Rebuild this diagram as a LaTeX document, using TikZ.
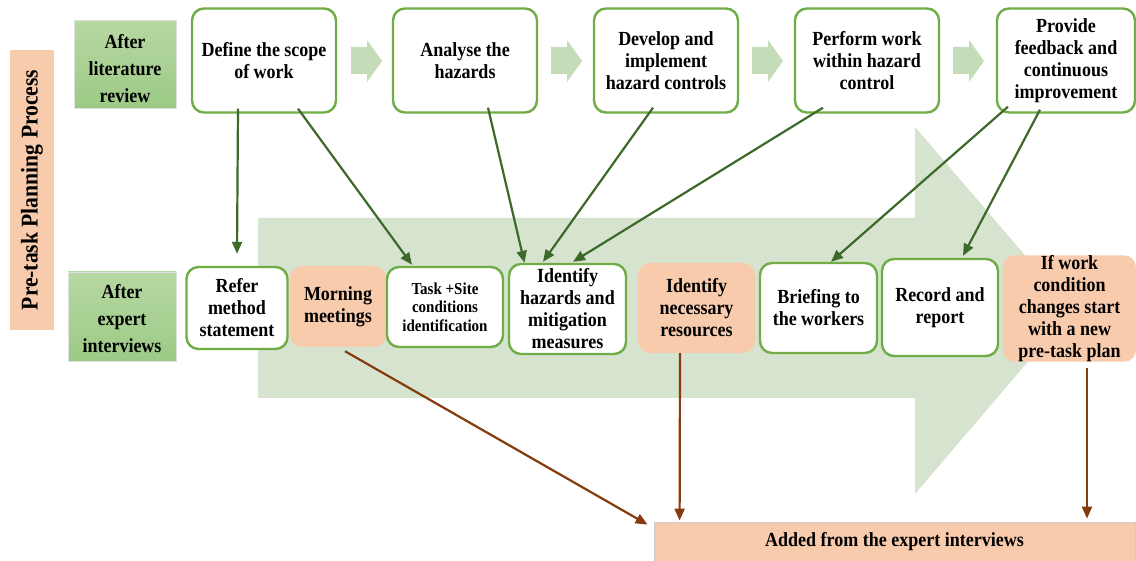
\documentclass[tikz,border=0pt]{standalone}
\usepackage{fontspec}
\setmainfont{Liberation Serif}[FakeStretch=0.9]
\usetikzlibrary{arrows.meta}
\definecolor{peach}{HTML}{F8CBAD}
\definecolor{boxgreen}{HTML}{70AD47}
\definecolor{glight}{HTML}{B6D8A2}
\definecolor{gdark}{HTML}{9CCA86}
\definecolor{arrgreen}{HTML}{3D6A2A}
\definecolor{arrbrown}{HTML}{843C0C}
\definecolor{smallarr}{HTML}{C5DCB8}
\definecolor{bigarr}{HTML}{D6E4CF}
\begin{document}
\begin{tikzpicture}[x=1pt,y=-1pt,
  every node/.style={align=center, inner sep=0pt, font=\bfseries\fontsize{20}{22}\selectfont},
  wbox/.style={draw=boxgreen, line width=2.4pt, rounded corners=12pt, fill=white},
  pbox/.style={fill=peach, rounded corners=12pt},
  gbox/.style={draw=black!12, line width=0.8pt, top color=glight, bottom color=gdark},
  garr/.style={draw=arrgreen, line width=2.2pt, -{Triangle[length=12pt,width=10pt]}},
  barr/.style={draw=arrbrown, line width=2.2pt, -{Triangle[length=12pt,width=10pt]}},
  blockarr/.style={fill=smallarr},
]
\fill[white] (0,0) rectangle (1136,561);
\useasboundingbox (0,0) rectangle (1136,561);

% big background arrow
\fill[bigarr] (258,218) -- (915,218) -- (915,127) -- (1072,310) -- (915,494) -- (915,398) -- (258,398) -- cycle;

% small block arrows
\foreach \x in {351,551,752,953}{
  \fill[blockarr] (\x,47) -- (\x+16,47) -- (\x+16,40) -- (\x+31,61) -- (\x+16,82) -- (\x+16,74) -- (\x,74) -- cycle;
}

% side label
\node[fill=peach, rotate=90, minimum width=280, minimum height=44, font=\bfseries\fontsize{24}{26}\selectfont] (side) at (32,190) {Pre-task Planning Process};

% green labels
\node[gbox, minimum width=102, minimum height=88] (lit) at (125,64.5) {};
\node[font=\bfseries\fontsize{20}{27}\selectfont] (litT) at (125,69) {After\\literature\\review};
\node[gbox, minimum width=108, minimum height=89] (exp) at (122,316.5) {};
\node[font=\bfseries\fontsize{20}{27}\selectfont] (expT) at (122,319) {After\\expert\\interviews};

% top row
\node[wbox, minimum width=144, minimum height=104] (define) at (264,60.5) {Define the scope\\of work};
\node[wbox, minimum width=144, minimum height=104] (analyse) at (465,60.5) {Analyse the\\hazards};
\node[wbox, minimum width=144, minimum height=104] (develop) at (666,60.5) {Develop and\\implement\\hazard controls};
\node[wbox, minimum width=144, minimum height=104] (perform) at (867,60.5) {Perform work\\within hazard\\control};
\node[wbox, minimum width=138, minimum height=104] (provide) at (1066,60.5) {Provide\\feedback and\\continuous\\improvement};

% bottom row
\node[wbox, minimum width=101, minimum height=82] (refer) at (237,308) {Refer\\method\\statement};
\node[pbox, minimum width=96, minimum height=81] (morning) at (338,306.5) {Morning\\meetings};
\node[wbox, minimum width=116, minimum height=80, font=\bfseries\fontsize{16.7}{18.5}\selectfont] (task) at (445,307) {Task +Site\\conditions\\identification};
\node[wbox, minimum width=117, minimum height=90] (hazards) at (567.5,309) {Identify\\hazards and\\mitigation\\measures};
\node[pbox, minimum width=117, minimum height=90] (resources) at (696.5,308) {Identify\\necessary\\resources};
\node[wbox, minimum width=117, minimum height=90] (briefing) at (818.5,308) {Briefing to\\the workers};
\node[wbox, minimum width=116, minimum height=97] (record) at (940,307.5) {Record and\\report};
\node[pbox, minimum width=133, minimum height=99] (ifwork) at (1069.5,308.5) {If work\\condition\\changes start\\with a new\\pre-task plan};

% bottom box
\node[fill=peach, draw=black!20, line width=0.8pt, minimum width=481, minimum height=39] (added) at (894.5,541.5) {Added from the expert interviews};

% green connectors
\draw[garr] ([xshift=-26pt,yshift=5pt]define.south) -- ([yshift=12pt]refer.north);
\draw[garr] ([xshift=34pt,yshift=5pt]define.south) -- ([xshift=-33pt,yshift=1pt]task.north);
\draw[garr] ([xshift=23pt,yshift=6pt]analyse.south) -- ([xshift=-43pt,yshift=0pt]hazards.north);
\draw[garr] ([xshift=-13pt,yshift=6pt]develop.south) -- ([xshift=-24.5pt,yshift=1pt]hazards.north);
\draw[garr] ([xshift=-44pt,yshift=6pt]perform.south) -- ([xshift=5.5pt,yshift=1pt]hazards.north);
\draw[garr] ([xshift=-58pt,yshift=7pt]provide.south) -- ([xshift=12.5pt,yshift=0pt]briefing.north);
\draw[garr] ([xshift=-26pt,yshift=4pt]provide.south) -- ([xshift=23pt,yshift=2pt]record.north);

% brown connectors
\draw[barr] ([xshift=7pt,yshift=-4pt]morning.south) -- ([xshift=-6pt,yshift=-3pt]added.north west);
\draw[barr] ([xshift=-16.5pt]resources.south) -- ([xshift=26pt,yshift=1pt]added.north west);
\draw[barr] ([xshift=17.5pt,yshift=-6pt]ifwork.south) -- ([xshift=192.5pt,yshift=3pt]added.north);
\end{tikzpicture}
\end{document}
